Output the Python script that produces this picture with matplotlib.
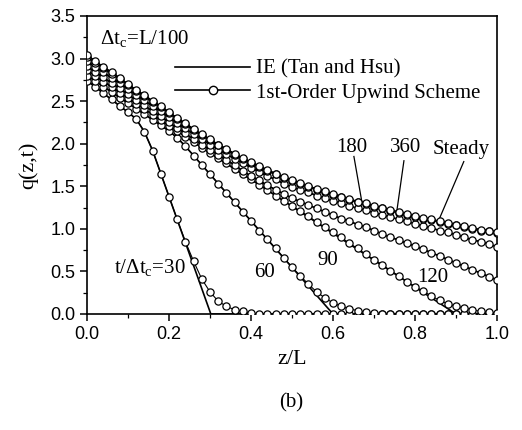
import numpy as np
import matplotlib
matplotlib.use('Agg')
import matplotlib.pyplot as plt
from matplotlib.ticker import MultipleLocator

plt.rcParams['font.family'] = 'Liberation Serif'
plt.rcParams['mathtext.fontset'] = 'custom'
plt.rcParams['mathtext.rm'] = 'Liberation Serif'
plt.rcParams['mathtext.it'] = 'Liberation Serif:italic'

# upwind scheme grid (z/L)
z_grid = np.linspace(0.0, 1.0, 51)

# 1st-order upwind scheme, q(z,t) read at each grid node
q_30 = [2.74, 2.67, 2.59, 2.52, 2.44, 2.37, 2.29, 2.14, 1.92, 1.65,
        1.38, 1.11, 0.85, 0.62, 0.41, 0.26, 0.15, 0.09, 0.05, 0.03,
        0.01, 0.0, 0.0, 0.0, 0.0, 0.0, 0.0, 0.0, 0.0, 0.0,
        0.0, 0.0, 0.0, 0.0, 0.0, 0.0, 0.0, 0.0, 0.0, 0.0,
        0.0, 0.0, 0.0, 0.0, 0.0, 0.0, 0.0, 0.0, 0.0, 0.0, 0.0]
q_60 = [2.80, 2.74, 2.67, 2.61, 2.54, 2.48, 2.41, 2.35, 2.28, 2.22,
        2.15, 2.07, 1.97, 1.86, 1.75, 1.64, 1.53, 1.42, 1.31, 1.20,
        1.09, 0.98, 0.88, 0.77, 0.66, 0.55, 0.45, 0.35, 0.26, 0.19,
        0.13, 0.09, 0.06, 0.04, 0.02, 0.01, 0.0, 0.0, 0.0, 0.0,
        0.0, 0.0, 0.0, 0.0, 0.0, 0.0, 0.0, 0.0, 0.0, 0.0, 0.0]
q_90 = [2.86, 2.80, 2.73, 2.67, 2.60, 2.54, 2.47, 2.41, 2.34, 2.28,
        2.21, 2.15, 2.08, 2.02, 1.95, 1.89, 1.83, 1.77, 1.70, 1.64,
        1.58, 1.52, 1.46, 1.39, 1.33, 1.27, 1.21, 1.15, 1.08, 1.02,
        0.96, 0.90, 0.83, 0.77, 0.70, 0.64, 0.58, 0.51, 0.45, 0.38,
        0.32, 0.27, 0.21, 0.16, 0.12, 0.09, 0.07, 0.05, 0.03, 0.02, 0.01]
q_120 = [2.91, 2.84, 2.78, 2.71, 2.65, 2.58, 2.51, 2.45, 2.38, 2.32,
         2.25, 2.18, 2.12, 2.05, 1.99, 1.93, 1.87, 1.81, 1.75, 1.68,
         1.62, 1.57, 1.51, 1.46, 1.41, 1.36, 1.32, 1.28, 1.24, 1.20,
         1.16, 1.12, 1.09, 1.05, 1.02, 0.98, 0.94, 0.90, 0.87, 0.83,
         0.80, 0.76, 0.72, 0.68, 0.64, 0.60, 0.56, 0.52, 0.48, 0.44, 0.40]
q_180 = [2.97, 2.90, 2.84, 2.77, 2.71, 2.64, 2.57, 2.51, 2.44, 2.38,
         2.31, 2.24, 2.18, 2.11, 2.05, 1.99, 1.93, 1.88, 1.82, 1.77,
         1.72, 1.67, 1.62, 1.58, 1.53, 1.49, 1.46, 1.43, 1.39, 1.36,
         1.33, 1.30, 1.27, 1.24, 1.22, 1.19, 1.16, 1.14, 1.11, 1.09,
         1.06, 1.03, 1.01, 0.98, 0.96, 0.93, 0.90, 0.87, 0.85, 0.82, 0.79]
q_360 = [3.02, 2.95, 2.89, 2.82, 2.76, 2.69, 2.62, 2.56, 2.49, 2.43,
         2.36, 2.29, 2.23, 2.16, 2.10, 2.04, 1.98, 1.93, 1.87, 1.82,
         1.77, 1.73, 1.68, 1.64, 1.60, 1.56, 1.53, 1.49, 1.46, 1.43,
         1.40, 1.37, 1.34, 1.31, 1.29, 1.26, 1.24, 1.21, 1.19, 1.16,
         1.14, 1.12, 1.10, 1.08, 1.06, 1.04, 1.02, 1.00, 0.98, 0.97, 0.95]
q_steady = [3.04, 2.97, 2.90, 2.84, 2.77, 2.70, 2.63, 2.57, 2.50, 2.44,
            2.37, 2.30, 2.24, 2.17, 2.11, 2.05, 1.99, 1.94, 1.88, 1.83,
            1.78, 1.74, 1.69, 1.65, 1.61, 1.57, 1.54, 1.50, 1.47, 1.44,
            1.41, 1.38, 1.35, 1.32, 1.30, 1.27, 1.25, 1.22, 1.20, 1.17,
            1.15, 1.13, 1.11, 1.09, 1.07, 1.05, 1.03, 1.01, 0.99, 0.98, 0.96]

# IE (Tan and Hsu) sharp-front profiles
ie_z_30 = [0.0, 0.10, 0.12, 0.14, 0.16, 0.302, 1.0]
ie_q_30 = [2.74, 2.37, 2.29, 2.14, 1.92, 0.0, 0.0]
ie_z_60 = [0.0, 0.20, 0.22, 0.24, 0.60, 1.0]
ie_q_60 = [2.80, 2.15, 2.07, 1.97, 0.0, 0.0]
ie_z_90 = [0.0, 0.30, 0.40, 0.90, 1.0]
ie_q_90 = [2.86, 1.89, 1.58, 0.0, 0.0]

fig = plt.figure(figsize=(5.22, 4.30), dpi=100)
ax = fig.add_axes([87/522, 116/430, 410/522, 298/430])

line_kw = dict(color='k', lw=1.2, zorder=2)
mark_kw = dict(color='k', lw=0.8, marker='o', ms=5.2, mfc='white',
               mec='k', mew=0.9, zorder=3)

ax.plot(ie_z_30, ie_q_30, **line_kw)
ax.plot(ie_z_60, ie_q_60, **line_kw)
ax.plot(ie_z_90, ie_q_90, **line_kw)
for q in (q_120, q_180, q_360, q_steady):
    ax.plot(z_grid, q, **line_kw)

for q in (q_30, q_60, q_90, q_120, q_180, q_360, q_steady):
    ax.plot(z_grid, q, **mark_kw)

# legend handles
h_ie, = ax.plot([], [], color='k', lw=1.2, label='IE (Tan and Hsu)')
h_up, = ax.plot([], [], color='k', lw=1.2, marker='o', ms=6, mfc='white',
                mec='k', mew=1.0, label='1st-Order Upwind Scheme')
ax.legend(handles=[h_ie, h_up], loc='upper left', bbox_to_anchor=(0.215, 0.855),
          frameon=False, fontsize=15, handlelength=3.6, handletextpad=0.3,
          labelspacing=0.2, borderpad=0, borderaxespad=0)

# annotations
ax.text(0.032, 3.24, r'$\Delta$t$_{\rm c}$=L/100', fontsize=15, va='center', ha='left')
ax.text(0.154, 0.55, r't/$\Delta$t$_{\rm c}$=30', fontsize=15, va='center', ha='center')
ax.text(0.434, 0.49, '60', fontsize=15, va='center', ha='center')
ax.text(0.587, 0.63, '90', fontsize=15, va='center', ha='center')
ax.text(0.844, 0.43, '120', fontsize=15, va='center', ha='center')
ax.text(0.646, 1.95, '180', fontsize=15, va='center', ha='center')
ax.text(0.776, 1.95, '360', fontsize=15, va='center', ha='center')
ax.text(0.912, 1.93, 'Steady', fontsize=15, va='center', ha='center')
ax.plot([0.651, 0.671], [1.85, 1.30], color='k', lw=0.9)
ax.plot([0.773, 0.756], [1.80, 1.22], color='k', lw=0.9)
ax.plot([0.919, 0.856], [1.79, 1.08], color='k', lw=0.9)

ax.set_xlim(0, 1.0)
ax.set_ylim(0, 3.5)
ax.xaxis.set_major_locator(MultipleLocator(0.2))
ax.xaxis.set_minor_locator(MultipleLocator(0.1))
ax.yaxis.set_major_locator(MultipleLocator(0.5))
ax.yaxis.set_minor_locator(MultipleLocator(0.25))
ax.xaxis.set_major_formatter(plt.FormatStrFormatter('%.1f'))
ax.yaxis.set_major_formatter(plt.FormatStrFormatter('%.1f'))
ax.tick_params(which='major', direction='out', length=5, width=1.1)
ax.tick_params(which='minor', direction='out', length=3, width=0.9)
for lab in ax.get_xticklabels() + ax.get_yticklabels():
    lab.set_family('Liberation Sans')
    lab.set_fontsize(13)
for s in ax.spines.values():
    s.set_linewidth(1.2)

ax.set_xlabel('z/L', fontsize=16)
ax.set_ylabel('q(z,t)', fontsize=16)
ax.xaxis.set_label_coords(0.5, -0.12)
ax.yaxis.set_label_coords(-0.118, 0.5)

fig.text(291/522, 1 - 403/430, '(b)', fontsize=15, ha='center', va='center')

fig.savefig('out.png', dpi=100)
